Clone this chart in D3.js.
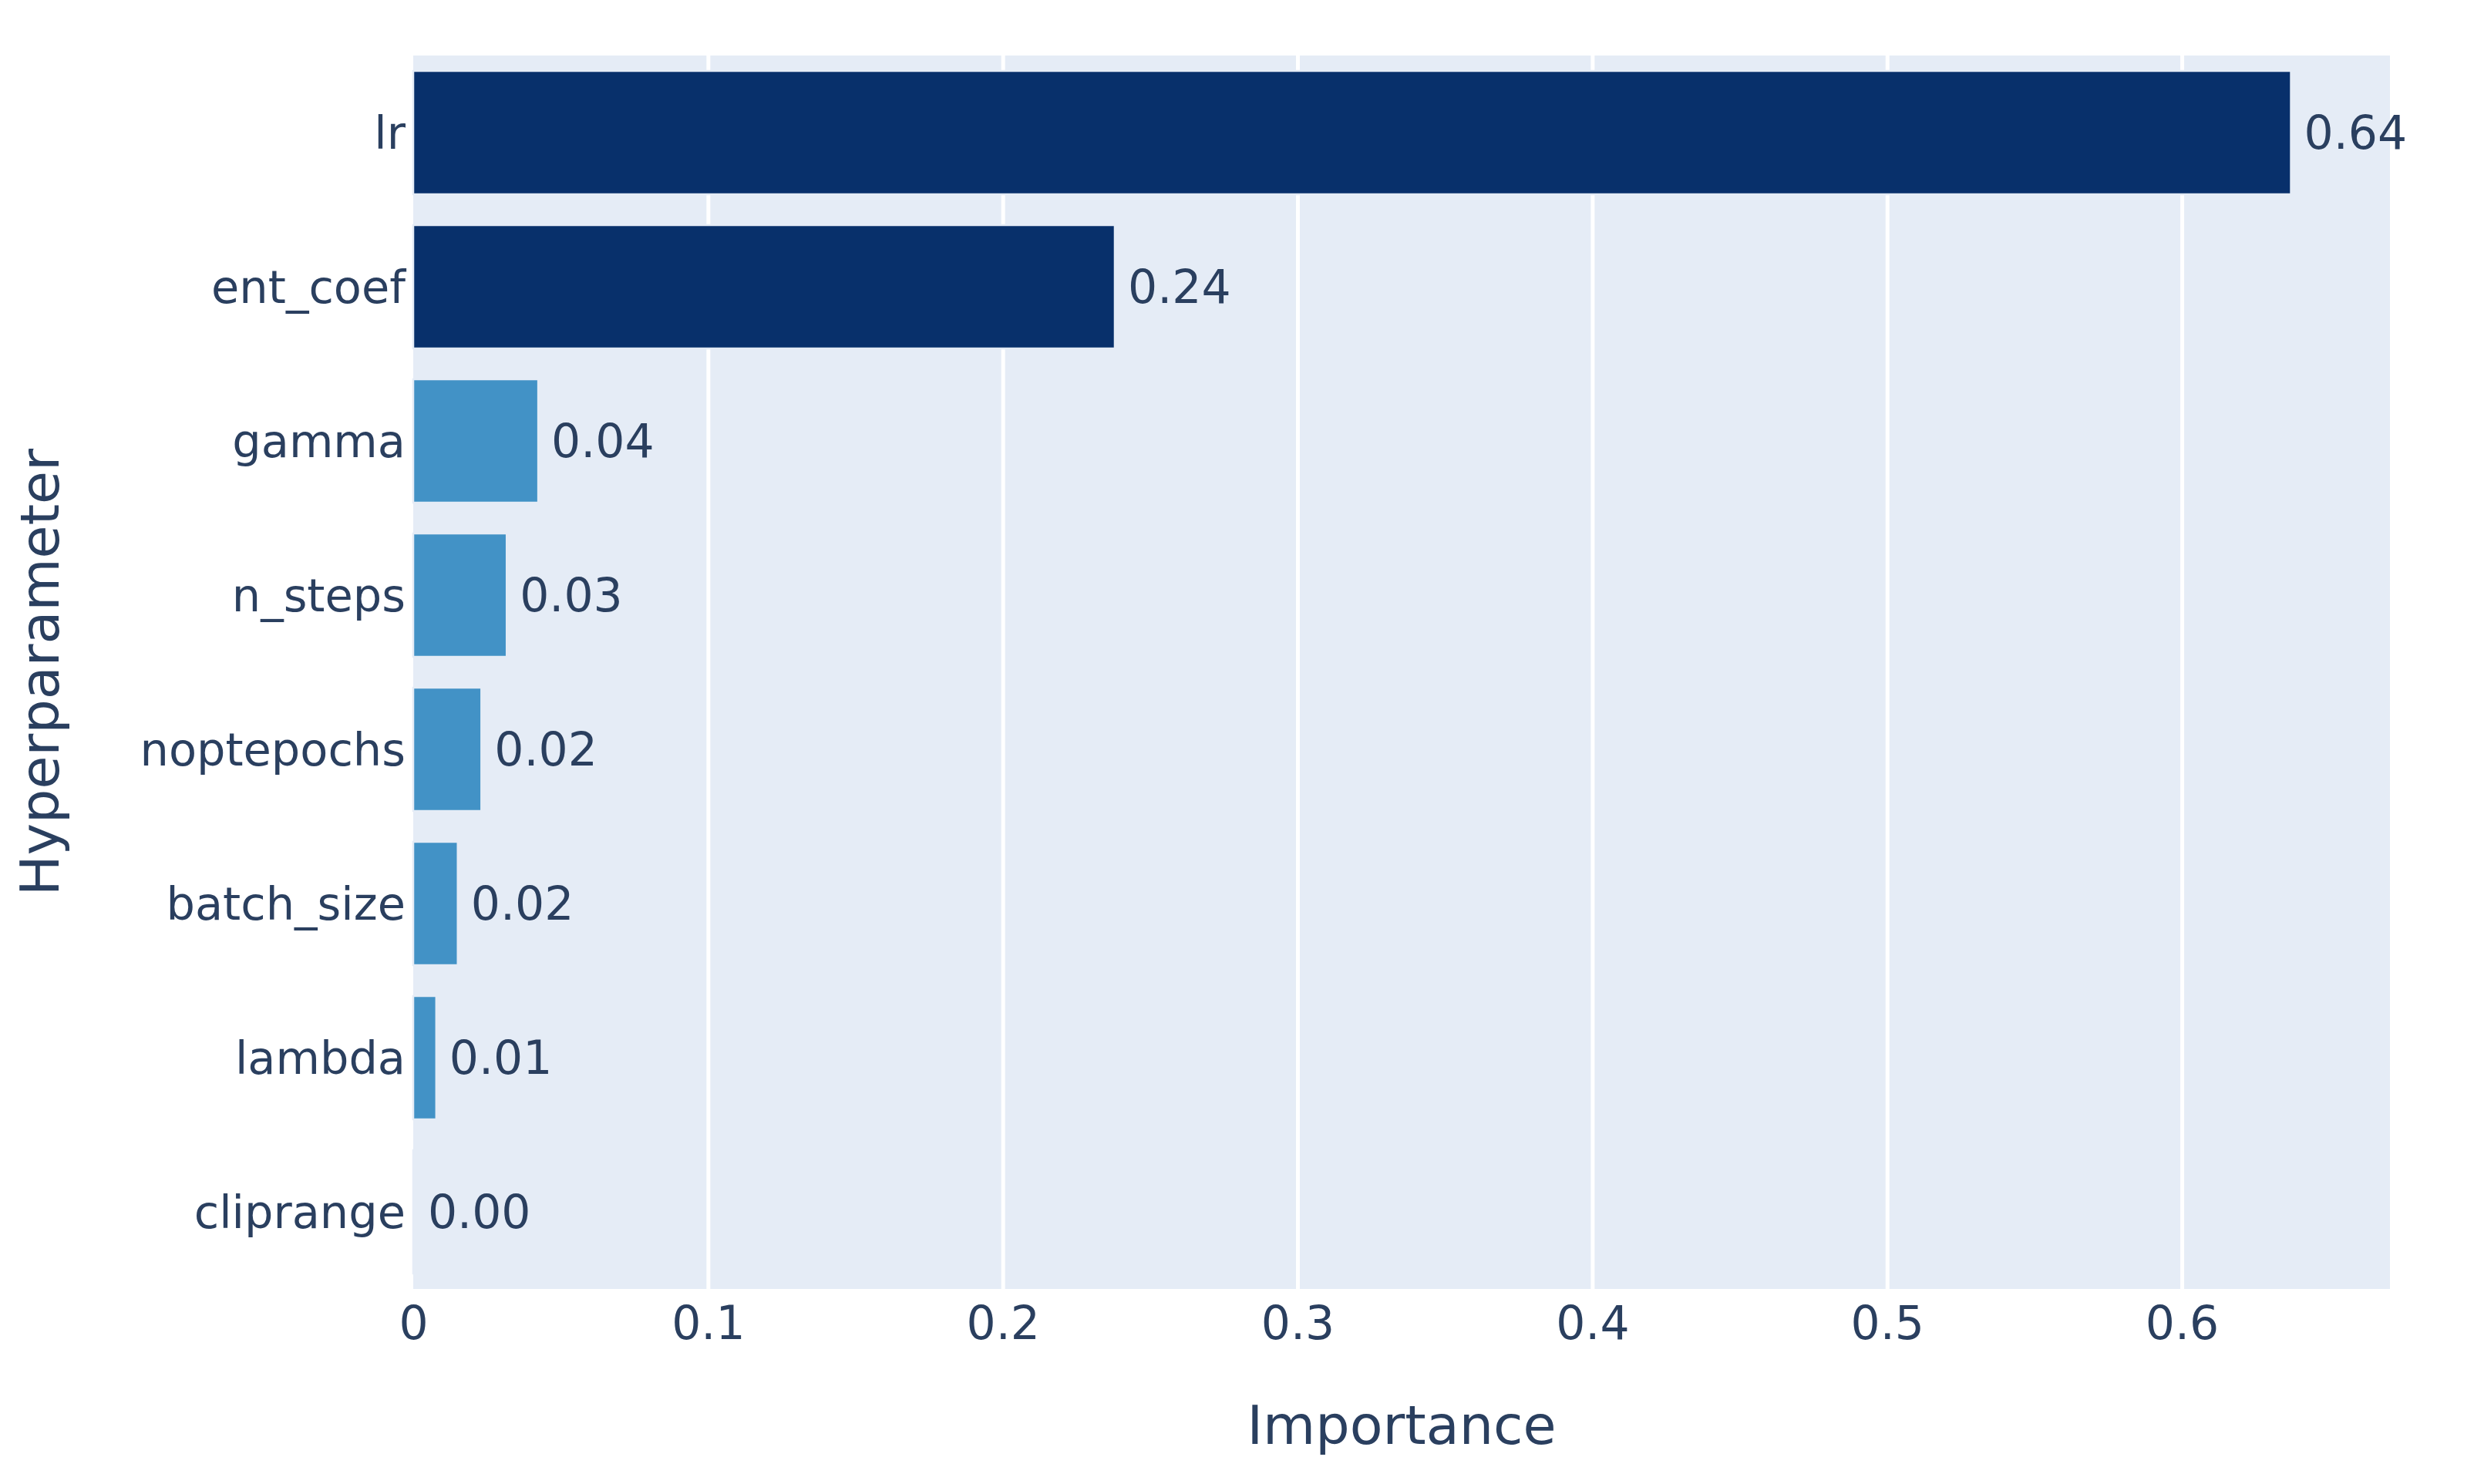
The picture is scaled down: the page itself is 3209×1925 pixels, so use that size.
<!DOCTYPE html>
<html>
<head>
<meta charset="utf-8">
<script src="https://cdn.jsdelivr.net/npm/d3@7"></script>
<style>
    body { margin: 0; background: #fff; }
    text { font-family: "DejaVu Sans", Verdana, sans-serif; fill: #2a3f5f; }
</style>
</head>
<body>
<div id="chart"></div>
<script>
// hyperparameter importances, top to bottom
const params = ["lr", "ent_coef", "gamma", "n_steps", "noptepochs", "batch_size", "lambda", "cliprange"];
const importance = [0.637, 0.238, 0.0424, 0.0317, 0.0231, 0.0151, 0.0078, 0.0005];
const xTicks = [0, 0.1, 0.2, 0.3, 0.4, 0.5, 0.6];
const xTickLabels = ["0", "0.1", "0.2", "0.3", "0.4", "0.5", "0.6"];

const svgWidth = 3209;
const svgHeight = 1925;

const margin = { top: 72, right: 109, bottom: 253, left: 536 };
const width = svgWidth - margin.left - margin.right;
const height = svgHeight - margin.top - margin.bottom;

const svg = d3.select("#chart")
    .append("svg")
    .attr("width", svgWidth)
    .attr("height", svgHeight);

const chartGroup = svg.append("g")
    .attr("transform", `translate(${margin.left}, ${margin.top})`);

// plot background
chartGroup.append("rect")
    .attr("width", width)
    .attr("height", height)
    .attr("fill", "#E5ECF6");

// scales
const xScale = d3.scaleLinear()
    .domain([0, 0.6706])
    .range([0, width]);

const yScale = d3.scaleBand()
    .domain(params)
    .range([0, height])
    .paddingInner(0.2)
    .paddingOuter(0.1);

// two shades of blue, split at 0.1
const colorScale = d3.scaleThreshold()
    .domain([0.1])
    .range(["#4292c6", "#08306b"]);

// gridlines
chartGroup.append("g")
    .attr("class", "grid")
    .attr("transform", `translate(0, ${height})`)
    .call(d3.axisBottom(xScale).tickValues(xTicks.slice(1)).tickSize(-height).tickFormat(""))
    .call(g => g.select(".domain").remove())
    .call(g => g.selectAll("line").attr("stroke", "#fff").attr("stroke-width", 5));

// bars
chartGroup.selectAll(".bar")
    .data(params)
    .enter()
    .append("rect")
    .attr("class", "bar")
    .attr("x", xScale(0))
    .attr("y", d => yScale(d))
    .attr("width", (d, i) => xScale(importance[i]) - xScale(0))
    .attr("height", yScale.bandwidth())
    .attr("fill", (d, i) => colorScale(importance[i]))
    .attr("stroke", "#E5ECF6")
    .attr("stroke-width", 2.5);

// value labels outside the bars
chartGroup.selectAll(".barText")
    .data(params)
    .enter()
    .append("text")
    .attr("class", "barText")
    .attr("x", (d, i) => xScale(importance[i]) + 17)
    .attr("y", d => yScale(d) + yScale.bandwidth() / 2)
    .attr("dy", "0.35em")
    .attr("font-size", "60px")
    .text((d, i) => d3.format(".2f")(importance[i]));

// x axis
chartGroup.append("g")
    .attr("transform", `translate(0, ${height})`)
    .call(d3.axisBottom(xScale)
        .tickValues(xTicks)
        .tickFormat((d, i) => xTickLabels[i])
        .tickSize(0)
        .tickPadding(22))
    .call(g => g.select(".domain").remove())
    .call(g => g.selectAll("text").attr("font-size", "60px").attr("font-family", null).attr("fill", null));

// y axis
chartGroup.append("g")
    .call(d3.axisLeft(yScale).tickSize(0).tickPadding(10))
    .call(g => g.select(".domain").remove())
    .call(g => g.selectAll("text").attr("font-size", "59px").attr("dy", "0.35em").attr("font-family", null).attr("fill", null));

// axis titles
chartGroup.append("text")
    .attr("x", width / 2)
    .attr("y", 1873 - margin.top)
    .attr("text-anchor", "middle")
    .attr("font-size", "70px")
    .text("Importance");

chartGroup.append("text")
    .attr("transform", "rotate(-90)")
    .attr("x", -height / 2)
    .attr("y", 76 - margin.left)
    .attr("text-anchor", "middle")
    .attr("font-size", "70px")
    .text("Hyperparameter");
</script>
</body>
</html>
